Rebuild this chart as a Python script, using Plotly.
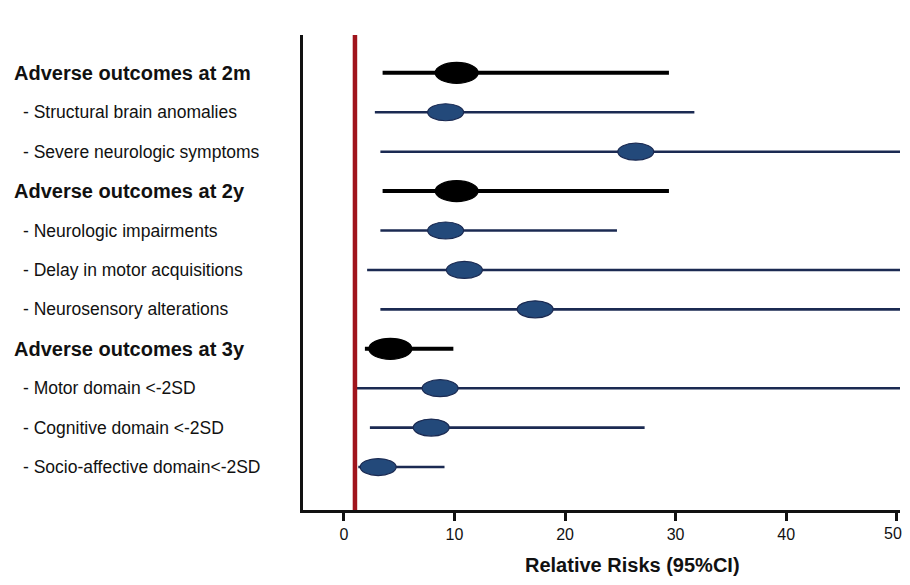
import plotly.graph_objects as go

labels = [
    "Adverse outcomes at 2m",
    "- Structural brain anomalies",
    "- Severe neurologic symptoms",
    "Adverse outcomes at 2y",
    "- Neurologic impairments",
    "- Delay in motor acquisitions",
    "- Neurosensory alterations",
    "Adverse outcomes at 3y",
    "- Motor domain <-2SD",
    "- Cognitive domain <-2SD",
    "- Socio-affective domain<-2SD",
]
is_group = [True, False, False, True, False, False, False, True, False, False, False]
rr = [10.2, 9.2, 26.4, 10.2, 9.2, 10.9, 17.3, 4.2, 8.7, 7.9, 3.1]
ci_low = [3.5, 2.8, 3.3, 3.5, 3.3, 2.1, 3.3, 1.9, 1.1, 2.35, 1.3]
ci_high = [29.4, 31.7, 50.3, 29.4, 24.7, 50.3, 50.3, 9.9, 50.3, 27.2, 9.1]

x_ticks = [0, 10, 20, 30, 40, 50]
x_tick_labels = ["0", "10", "20", "30", "40", "50"]
ref_value = 1

BLACK = "#000000"
NAVY = "#1b2a52"
FILL = "#23497a"
RED = "#a0141c"

OFF = 8  # page offset of the figure inside the browser window
W, H = 910 - 2 * OFF, 585 - 2 * OFF
L, T = 303 - OFF, 35 - OFF
R = W - (900 - OFF)
B = H - (510 - OFF)
plot_w = W - L - R
plot_h = H - T - B
FONT = "Liberation Sans, Arial, sans-serif"

fig = go.Figure()

for i in range(len(labels)):
    grp = is_group[i]
    fig.add_trace(go.Scatter(
        x=[ci_low[i], ci_high[i]], y=[i, i], mode="lines",
        line=dict(color=BLACK if grp else NAVY, width=4 if grp else 2.6),
        hoverinfo="skip", showlegend=False,
    ))

fig.add_trace(go.Scatter(
    x=[ref_value, ref_value], y=[-1.2, 11.5], mode="lines",
    line=dict(color=RED, width=4.5), hoverinfo="skip", showlegend=False,
))

shapes = []
for i in range(len(labels)):
    grp = is_group[i]
    hw = 21.5 if grp else 18
    hh = 10.5 if grp else 8.5
    shapes.append(dict(
        type="circle", xref="x", yref="y",
        xsizemode="pixel", ysizemode="pixel",
        xanchor=rr[i], yanchor=i,
        x0=-hw, x1=hw, y0=-hh, y1=hh,
        fillcolor=BLACK if grp else FILL,
        line=dict(color=BLACK if grp else NAVY, width=1.2),
        layer="above",
    ))

annotations = []
for i, lab in enumerate(labels):
    grp = is_group[i]
    x_px = (12 if grp else 21) - OFF
    annotations.append(dict(
        text=f"<b>{lab}</b>" if grp else lab,
        xref="paper", yref="y", x=(x_px - L) / plot_w, y=i,
        xanchor="left", yanchor="middle", showarrow=False,
        font=dict(family=FONT, size=20 if grp else 17.5, color="#111111"),
    ))

annotations.append(dict(
    text="<b>Relative Risks (95%CI)</b>",
    xref="paper", yref="paper", x=(632 - OFF - L) / plot_w, y=-(565 - 510) / plot_h,
    xanchor="center", yanchor="middle", showarrow=False,
    font=dict(family=FONT, size=20, color="#111111"),
))

# last tick label drawn as an annotation so it stays inside the figure edge
annotations.append(dict(
    text=x_tick_labels[-1], xref="x", yref="paper",
    x=x_ticks[-1], y=-(533 - 510) / plot_h, xshift=-4,
    xanchor="center", yanchor="middle", showarrow=False,
    font=dict(family=FONT, size=16, color="#111111"),
))

fig.update_layout(
    width=W, height=H,
    margin=dict(l=L, r=R, t=T, b=B),
    paper_bgcolor="white", plot_bgcolor="white",
    shapes=shapes, annotations=annotations,
    showlegend=False,
    xaxis=dict(
        range=[-3.7, 50.3], tickvals=x_ticks,
        ticktext=x_tick_labels[:-1] + [""],
        showgrid=False, zeroline=False,
        showline=True, linecolor="#111111", linewidth=3,
        ticks="outside", ticklen=8, tickwidth=3, tickcolor="#111111",
        tickfont=dict(family=FONT, size=16, color="#111111"),
        fixedrange=True,
    ),
    yaxis=dict(
        range=[11.09, -0.96], showticklabels=False, showgrid=False, zeroline=False,
        showline=True, linecolor="#111111", linewidth=3, ticks="",
        fixedrange=True,
    ),
)

fig.write_html("out.html")
